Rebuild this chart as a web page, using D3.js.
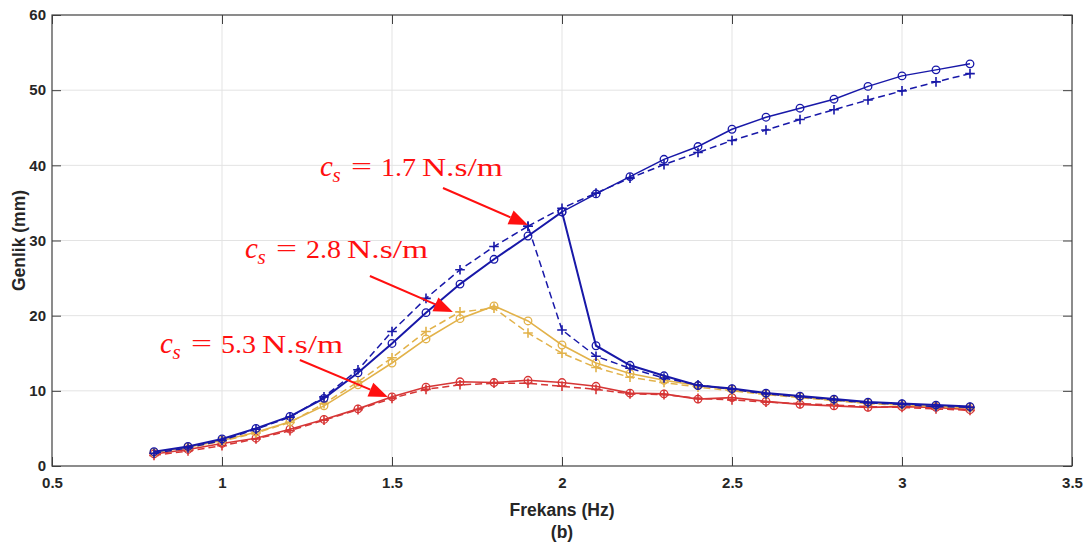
<!DOCTYPE html>
<html><head><meta charset="utf-8">
<script src="https://cdn.jsdelivr.net/npm/d3@7"></script>
<style>body{margin:0;background:#fff}svg{display:block}</style>
</head><body>
<svg id="chart" width="1087" height="545"></svg>
<script>
// ---------- data ----------
const freq = [0.8,0.9,1.0,1.1,1.2,1.3,1.4,1.5,1.6,1.7,1.8,1.9,2.0,2.1,2.2,2.3,2.4,2.5,2.6,2.7,2.8,2.9,3.0,3.1,3.2];
const freqUpperSolid = [2.0,2.1,2.2,2.3,2.4,2.5,2.6,2.7,2.8,2.9,3.0,3.1,3.2];
const freqUpperDash  = [1.9,2.0,2.1,2.2,2.3,2.4,2.5,2.6,2.7,2.8,2.9,3.0,3.1,3.2];

const blueSolid = [1.9,2.6,3.6,5.0,6.6,9.0,12.4,16.3,20.4,24.2,27.5,30.6,33.8,16.0,13.4,12.0,10.7,10.3,9.7,9.3,8.9,8.5,8.3,8.1,7.9];
const blueDash  = [1.7,2.4,3.4,4.9,6.5,9.2,12.8,17.9,22.3,26.1,29.2,31.9,18.1,14.6,13.0,11.7,10.8,10.2,9.6,9.2,8.8,8.4,8.2,7.9,7.8];
const blueSolidUpper = [33.8,36.2,38.5,40.8,42.5,44.8,46.4,47.6,48.8,50.5,51.9,52.7,53.5];
const blueDashUpper  = [31.9,34.3,36.3,38.3,40.1,41.7,43.3,44.7,46.1,47.4,48.7,49.9,51.1,52.2];

const yellowSolid = [1.8,2.5,3.4,4.5,5.9,8.0,10.8,13.7,16.9,19.6,21.3,19.3,16.1,13.7,12.3,11.4,10.7,10.2,9.6,9.2,8.8,8.4,8.2,8.0,7.8];
const yellowDash  = [1.7,2.4,3.3,4.4,5.8,8.3,11.2,14.4,17.9,20.5,21.0,17.7,15.0,13.1,11.8,11.1,10.5,10.0,9.5,9.1,8.7,8.3,8.1,7.9,7.7];

const redSolid = [1.6,2.2,3.0,3.7,4.9,6.2,7.6,9.2,10.5,11.2,11.1,11.4,11.1,10.6,9.7,9.6,8.9,9.1,8.6,8.2,8.0,7.8,7.9,7.8,7.5];
const redDash  = [1.4,2.0,2.7,3.6,4.7,6.1,7.5,9.0,10.2,10.8,11.0,11.0,10.6,10.2,9.6,9.5,9.0,8.8,8.5,8.3,8.1,7.9,7.8,7.6,7.4];

const xTicks = [0.5,1,1.5,2,2.5,3,3.5];
const yTicks = [0,10,20,30,40,50,60];

const annLabels = ["1.7","2.8","5.3"];
const annText  = [[1.288,38.58],[1.068,27.67],[0.818,15.03]];
const annFrom  = [[1.650,36.98],[1.435,25.28],[1.229,14.10]];
const annTo    = [[1.900,32.06],[1.679,20.49],[1.488,9.18]];

// ---------- layout ----------
const svg = d3.select("#chart");
const L = 52, R = 1072, T = 15, B = 466;
const x = d3.scaleLinear().domain([0.5,3.5]).range([L,R]);
const y = d3.scaleLinear().domain([0,60]).range([B,T]);

const BLUE = "#1818a8", YEL = "#e2b24a", RED = "#d63636";
const axisCol = "#404040", tickTxt = "#262626";
const font = "Liberation Sans, Arial, sans-serif";

// grid
const g = svg.append("g");
g.selectAll(".gx").data(xTicks.slice(1,-1)).join("line")
  .attr("x1",d=>x(d)).attr("x2",d=>x(d)).attr("y1",T).attr("y2",B)
  .attr("stroke","#e3e3e3").attr("stroke-width",1);
g.selectAll(".gy").data(yTicks.slice(1,-1)).join("line")
  .attr("y1",d=>y(d)).attr("y2",d=>y(d)).attr("x1",L).attr("x2",R)
  .attr("stroke","#e3e3e3").attr("stroke-width",1);

// axes with inward ticks
const ax = svg.append("g").attr("transform",`translate(0,${B})`)
  .call(d3.axisBottom(x).tickValues(xTicks).tickSize(-9).tickPadding(11).tickFormat(d3.format("")));
const axTop = svg.append("g").attr("transform",`translate(0,${T})`)
  .call(d3.axisTop(x).tickValues(xTicks).tickSize(-9).tickFormat(""));
const ay = svg.append("g").attr("transform",`translate(${L},0)`)
  .call(d3.axisLeft(y).tickValues(yTicks).tickSize(-9).tickPadding(6));
const ayR = svg.append("g").attr("transform",`translate(${R},0)`)
  .call(d3.axisRight(y).tickValues(yTicks).tickSize(-9).tickFormat(""));
[ax,axTop,ay,ayR].forEach(a=>{
  a.select(".domain").remove();
  a.selectAll(".tick line").attr("stroke",axisCol).attr("stroke-width",1);
  a.selectAll("text").attr("fill",tickTxt).attr("font-family",font)
   .attr("font-weight","bold").attr("font-size","15px");
});
svg.append("rect").attr("x",L).attr("y",T).attr("width",R-L).attr("height",B-T)
  .attr("fill","none").attr("stroke",axisCol).attr("stroke-width",1.2);

// series
const plot = svg.append("g");
function series(xs, ys, color, dashed, marker, width){
  const pts = xs.map((f,i)=>[f,ys[i]]);
  plot.append("path").datum(pts)
    .attr("d", d3.line().x(d=>x(d[0])).y(d=>y(d[1])))
    .attr("fill","none").attr("stroke",color).attr("stroke-width",width||1.5)
    .attr("stroke-dasharray", dashed ? "7,4" : null);
  const m = plot.append("g");
  if(marker==="o"){
    m.selectAll("circle").data(pts).join("circle")
      .attr("cx",d=>x(d[0])).attr("cy",d=>y(d[1])).attr("r",3.8)
      .attr("fill","none").attr("stroke",color).attr("stroke-width",1.3);
  } else {
    const s = 4.8;
    m.selectAll("path").data(pts).join("path")
      .attr("d",d=>{const cx=x(d[0]), cy=y(d[1]);
        return `M${cx-s},${cy}H${cx+s}M${cx},${cy-s}V${cy+s}`;})
      .attr("stroke",color).attr("stroke-width",1.6);
  }
}
series(freq, redDash, RED, true, "+");
series(freq, redSolid, RED, false, "o", 1.6);
series(freq, yellowDash, YEL, true, "+");
series(freq, yellowSolid, YEL, false, "o", 1.6);
series(freq, blueDash, BLUE, true, "+");
series(freqUpperDash, blueDashUpper, BLUE, true, "+");
series(freqUpperSolid, blueSolidUpper, BLUE, false, "o", 1.5);
series(freq, blueSolid, BLUE, false, "o", 2);

// annotations
const ann = svg.append("g");
const serif = "Liberation Serif, Times New Roman, serif";
annLabels.forEach((lab,i)=>{
  const [fx,fy] = annFrom[i], [tx,ty] = annTo[i];
  const x1=x(fx), y1=y(fy), x2=x(tx), y2=y(ty);
  const ang = Math.atan2(y2-y1, x2-x1);
  const hl = 19, hw = 7.5;
  const bx = x2 - hl*Math.cos(ang), by = y2 - hl*Math.sin(ang);
  ann.append("line").attr("x1",x1).attr("y1",y1).attr("x2",bx).attr("y2",by)
    .attr("stroke","#ff1010").attr("stroke-width",2);
  const px = -Math.sin(ang), py = Math.cos(ang);
  ann.append("path").attr("d",`M${x2},${y2}L${bx+px*hw},${by+py*hw}L${bx-px*hw},${by-py*hw}Z`)
    .attr("fill","#ff1010");

  const [ax0, ay0] = annText[i];
  const tg = ann.append("g").attr("transform",`translate(${x(ax0)},${y(ay0)})`)
    .attr("font-family",serif).attr("fill","#ff1010");
  tg.append("text").attr("x",0).attr("y",0).attr("font-style","italic").attr("font-size","29px").text("c");
  tg.append("text").attr("x",12.5).attr("y",6).attr("font-style","italic").attr("font-size","21px").text("s");
  tg.append("text").attr("x",31).attr("y",-1).attr("font-size","26px")
    .attr("textLength",21).attr("lengthAdjust","spacingAndGlyphs").text("=");
  tg.append("text").attr("x",61).attr("y",0).attr("font-size","26px")
    .attr("textLength",35).attr("lengthAdjust","spacingAndGlyphs").text(lab);
  tg.append("text").attr("x",102).attr("y",0).attr("font-size","26px")
    .attr("textLength",81).attr("lengthAdjust","spacingAndGlyphs").text("N.s/m");
});

// axis titles
svg.append("text").attr("x",(L+R)/2).attr("y",516).attr("text-anchor","middle")
  .attr("font-family",font).attr("font-weight","bold").attr("font-size","17.5px").attr("fill",tickTxt)
  .text("Frekans (Hz)");
svg.append("text").attr("x",(L+R)/2).attr("y",538).attr("text-anchor","middle")
  .attr("font-family",font).attr("font-weight","bold").attr("font-size","17.5px").attr("fill",tickTxt)
  .text("(b)");
svg.append("text").attr("transform",`translate(25,${(T+B)/2}) rotate(-90)`).attr("text-anchor","middle")
  .attr("font-family",font).attr("font-weight","bold").attr("font-size","17.5px").attr("fill",tickTxt)
  .text("Genlik (mm)");
</script>
</body></html>
